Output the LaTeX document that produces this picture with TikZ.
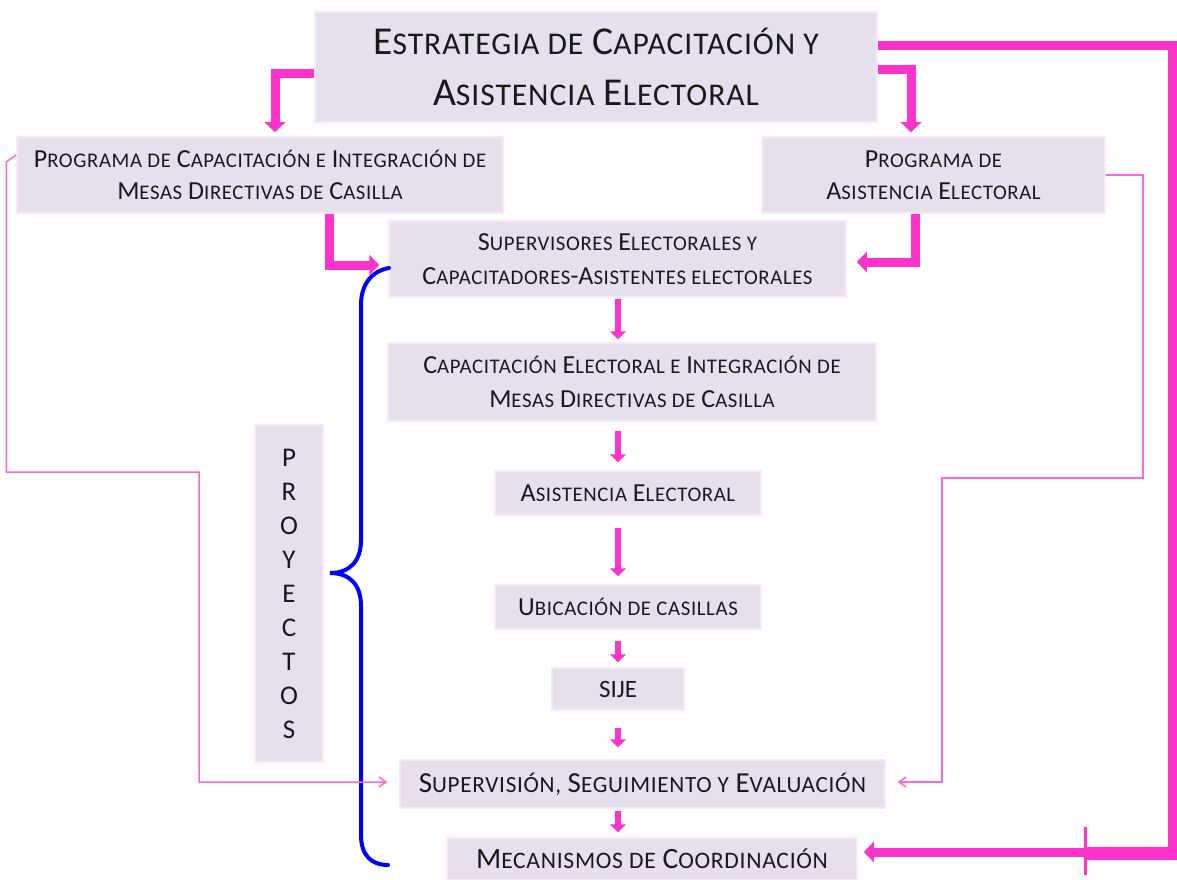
\documentclass[tikz,border=0pt]{standalone}
\usepackage{fontspec}
\setmainfont{Carlito}
\usetikzlibrary{arrows.meta}

\definecolor{boxfill}{RGB}{230,224,236}
\definecolor{boxline}{RGB}{250,232,250}
\definecolor{magline}{RGB}{255,51,204}
\definecolor{pinkline}{RGB}{255,102,214}
\definecolor{bracecol}{RGB}{0,0,255}
\definecolor{txtcol}{RGB}{25,25,25}

%% small letters of the small caps
\makeatletter
\newcommand\lc[1]{{\dimen@=\f@size pt\dimen@=0.8\dimen@
  \fontsize{\strip@pt\dimen@}{\f@baselineskip}\selectfont
  \addfontfeatures{LetterSpace=3}\MakeUppercase{#1}}}
\makeatother

\tikzset{
  box/.style={fill=boxfill, draw=boxline, line width=1.5pt, inner sep=0pt,
    align=center, text=txtcol},
  bigarrow/.style={magline, line width=9pt, -{Triangle[width=20pt,length=10pt]}},
  chainarrow/.style={magline, line width=5.5pt, -{Triangle[width=16pt,length=8pt]}},
  thinarrow/.style={pinkline, line width=1.5pt, -{Straight Barb[width=10pt,length=7pt]}},
  brace/.style={bracecol, line width=4pt, line cap=round},
}

\begin{document}
\begin{tikzpicture}[x=1pt,y=-1pt]
  \useasboundingbox (0,0) rectangle (1177,880);
  %% boxes
  \node[box, minimum width=562pt, minimum height=110pt, font=\fontsize{39.5}{51}\selectfont]
    (title) at (596,67) {E\lc{strategia de} C\lc{apacitación y}\\A\lc{sistencia} E\lc{lectoral}};
  \node[box, minimum width=486pt, minimum height=76pt, font=\fontsize{26}{32}\selectfont]
    (progA) at (260,175) {P\lc{rograma de} C\lc{apacitación e} I\lc{ntegración de}\\M\lc{esas} D\lc{irectivas de} C\lc{asilla}};
  \node[box, minimum width=343pt, minimum height=76pt, font=\fontsize{26}{32}\selectfont]
    (progB) at (933.5,175) {P\lc{rograma de}\\A\lc{sistencia} E\lc{lectoral}};
  \node[box, minimum width=457pt, minimum height=76pt, font=\fontsize{26}{34}\selectfont]
    (sup) at (617.5,259) {S\lc{upervisores} E\lc{lectorales y}\\C\lc{apacitadores}-A\lc{sistentes electorales}};
  \node[box, minimum width=488pt, minimum height=78pt, font=\fontsize{26}{34}\selectfont]
    (cap) at (632,382) {C\lc{apacitación} E\lc{lectoral e} I\lc{ntegración de}\\M\lc{esas} D\lc{irectivas de} C\lc{asilla}};
  \node[box, minimum width=266pt, minimum height=44pt, font=\fontsize{26}{30}\selectfont]
    (asis) at (628,493) {A\lc{sistencia} E\lc{lectoral}};
  \node[box, minimum width=266pt, minimum height=44pt, font=\fontsize{26}{30}\selectfont]
    (ubic) at (628,607) {U\lc{bicación de casillas}};
  \node[box, minimum width=132pt, minimum height=42pt, font=\fontsize{25}{30}\selectfont]
    (sije) at (618,689) {SIJE};
  \node[box, minimum width=485pt, minimum height=48pt, font=\fontsize{29}{32}\selectfont]
    (superv) at (642.5,784) {S\lc{upervisión,} S\lc{eguimiento y} E\lc{valuación}};
  \node[box, minimum width=410pt, minimum height=42pt, font=\fontsize{29.5}{34}\selectfont]
    (mecan) at (652,859) {M\lc{ecanismos de} C\lc{oordinación}};
  \node[box, minimum width=68pt, minimum height=337pt, font=\fontsize{27}{34}\selectfont]
    (proj) at (289,593.5) {P\\R\\O\\Y\\E\\C\\T\\O\\S};

  %% brace
  \draw[brace] (389,268) .. controls (372,271) and (361,284) .. (361,305)
    -- (361,540) .. controls (361,561) and (350,573) .. (330,573)
    .. controls (350,573) and (361,585) .. (361,606)
    -- (361,835) .. controls (361,855) and (371,865) .. (388,865);

  %% thick connectors
  \coordinate (rc) at (1172,852);
  \draw[bigarrow, shorten >=4pt] ([yshift=-7pt]title.west) -| ([xshift=15pt]progA.north);
  \draw[bigarrow, shorten >=4pt] ([yshift=-3pt]title.east) -| ([xshift=-22.5pt]progB.north);
  \draw[bigarrow, shorten >=9pt] ([xshift=69pt]progA.south) |- ([yshift=-6pt]sup.west);
  \draw[bigarrow, shorten >=10pt] ([xshift=-18.5pt]progB.south) |- ([yshift=-3pt]sup.east);
  \draw[bigarrow, shorten >=6pt] ([yshift=21pt]title.east) -| (rc) -- ([yshift=7pt]mecan.east);
  \fill[magline] (1085,847) rectangle (1177,860);
  \draw[magline, line width=3pt] (1085,827) -- (1085,875);

  %% chain
  \coordinate (axis) at (618,0);
  \foreach \a/\b/\s/\e in {sup/cap/1/3, cap/asis/9/8, asis/ubic/12/8,
      ubic/sije/11/5, sije/superv/17/12, superv/mecan/2/5} {
    \draw[chainarrow, shorten <=\s pt, shorten >=\e pt] (\a.south -| axis) -- (\b.north -| axis);
  }

  %% thin connectors
  \coordinate (lB) at (199,472);
  \coordinate (rB) at (1143,478);
  \coordinate (rC) at (942,782);
  \draw[thinarrow, shorten >=12pt] ([yshift=20pt]progA.west) -- ++(-10,7) |- (lB)
    |- ([yshift=2pt]superv.west);
  \draw[thinarrow, shorten >=12pt] (progB.east) -| (rB) -| (rC) -- ([yshift=2pt]superv.east);
\end{tikzpicture}
\end{document}
